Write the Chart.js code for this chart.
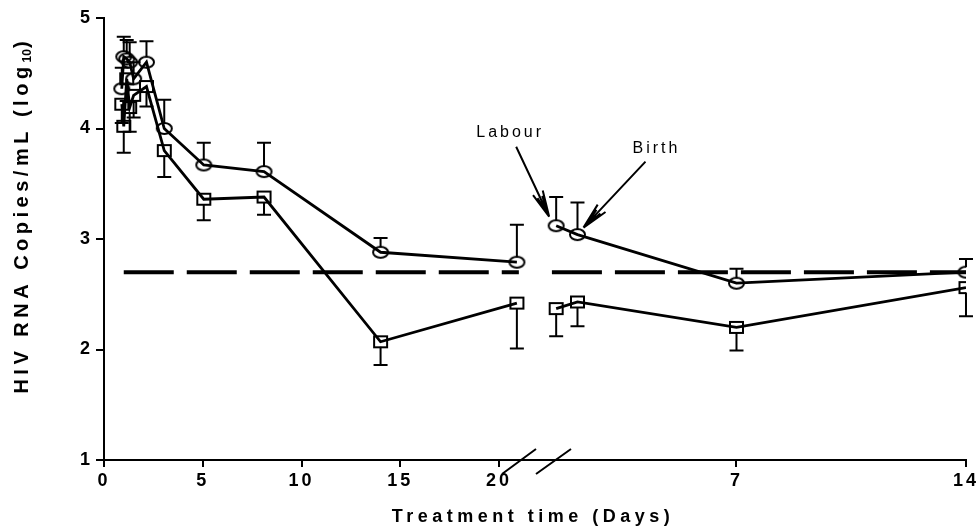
<!DOCTYPE html>
<html>
<head>
<meta charset="utf-8">
<script src="https://cdn.jsdelivr.net/npm/chart.js@4.4.0/dist/chart.umd.min.js"></script>
<style>
  html, body { margin: 0; padding: 0; background: #fff; }
</style>
</head>
<body>
<canvas id="myChart" width="979" height="531"></canvas>
<script>
// treatment phase, days of therapy
var treatDays = [0.9, 1.0, 1.15, 1.3, 1.5, 2.15, 3.05, 5.05, 8.1, 14, 20.9];
var circleTreat = [4.36, 4.65, 4.63, 4.60, 4.45, 4.60, 4.00, 3.67, 3.61, 2.88, 2.79];
var circleTreatErr = [4.55, 4.83, 4.80, 4.78, 4.60, 4.79, 4.26, 3.87, 3.87, 3.01, 3.13];
var squareTreat = [4.22, 4.02, 4.45, 4.19, 4.30, 4.38, 3.80, 3.36, 3.38, 2.07, 2.42];
var squareTreatErr = [4.05, 3.78, 4.25, 3.97, 4.10, 4.20, 3.56, 3.17, 3.22, 1.86, 2.01];

// after the break: labour, birth, then days 7 and 14
var postDays = [1.5, 2.15, 7, 14];
var circlePost = [3.12, 3.04, 2.60, 2.70];
var circlePostErr = [3.38, 3.33, 2.73, 2.82];
var squarePost = [2.37, 2.43, 2.20, 2.56];
var squarePostErr = [2.12, 2.21, 1.99, 2.30];

var detectLimit = 2.7;
var yTicks = [1, 2, 3, 4, 5];
var treatTicks = [0, 5, 10, 15, 20];
var postTicks = [7, 14];

// broken axis: post segment mapped onto the same linear scale
var postOffset = 20.40;
var postScale = 1.6596;
function postPos(d) { return postOffset + postScale * d; }
var xMax = postPos(14);

var FONT = '"Liberation Sans", Arial, sans-serif';

function pts(xs, ys) {
    return xs.map(function (x, i) { return { x: x, y: ys[i] }; });
}

function makeEllipse(w, h) {
    var c = document.createElement('canvas');
    c.width = w + 4; c.height = h + 4;
    var g = c.getContext('2d');
    g.lineWidth = 2; g.strokeStyle = '#000';
    g.beginPath();
    g.ellipse(c.width / 2, c.height / 2, w / 2, h / 2, 0, 0, Math.PI * 2);
    g.stroke();
    return c;
}
function makeBox(w, h) {
    var c = document.createElement('canvas');
    c.width = w + 4; c.height = h + 4;
    var g = c.getContext('2d');
    g.lineWidth = 2; g.strokeStyle = '#000';
    g.strokeRect(2, 2, w, h);
    return c;
}
var ellipseImg = makeEllipse(15, 11);
var boxImg = makeBox(13, 11);

var postX = postDays.map(postPos);

function lineSet(data, img, errs, dir) {
    return {
        data: data,
        borderColor: '#000',
        borderWidth: 2.8,
        pointStyle: img,
        pointRadius: 7,
        tension: 0,
        errs: errs,
        errDir: dir
    };
}

var errorBars = {
    id: 'errorBars',
    afterDatasetsDraw: function (chart) {
        var ctx = chart.ctx, xs = chart.scales.x, ys = chart.scales.y;
        ctx.save();
        ctx.strokeStyle = '#000';
        ctx.lineWidth = 2;
        chart.data.datasets.forEach(function (ds) {
            if (!ds.errs) return;
            ds.data.forEach(function (p, i) {
                var px = xs.getPixelForValue(p.x);
                var y0 = ys.getPixelForValue(p.y);
                var y1 = ys.getPixelForValue(ds.errs[i]);
                ctx.beginPath();
                ctx.moveTo(px, y0 + (ds.errDir < 0 ? -5 : 5));
                ctx.lineTo(px, y1);
                ctx.moveTo(px - 7, y1);
                ctx.lineTo(px + 7, y1);
                ctx.stroke();
            });
        });
        ctx.restore();
    }
};

function arrow(ctx, x0, y0, x1, y1) {
    var a = Math.atan2(y1 - y0, x1 - x0);
    ctx.beginPath();
    ctx.moveTo(x0, y0);
    ctx.lineTo(x1, y1);
    [0.2, 0.12].forEach(function (da, k) {
        var len = k ? 22 : 27;
        ctx.moveTo(x1, y1);
        ctx.lineTo(x1 - len * Math.cos(a - da), y1 - len * Math.sin(a - da));
        ctx.moveTo(x1, y1);
        ctx.lineTo(x1 - len * Math.cos(a + da), y1 - len * Math.sin(a + da));
    });
    ctx.stroke();
}

var decorations = {
    id: 'decorations',
    beforeDraw: function (chart) {
        chart.ctx.letterSpacing = '3px';
    },
    afterDraw: function (chart) {
        var ctx = chart.ctx, xs = chart.scales.x, ys = chart.scales.y;
        var area = chart.chartArea;
        ctx.save();
        ctx.fillStyle = '#000';
        ctx.strokeStyle = '#000';

        // axis break slashes
        ctx.lineWidth = 2;
        var bx = xs.getPixelForValue(postPos(0)) + 29;
        var by = area.bottom;
        ctx.beginPath();
        ctx.moveTo(bx - 34, by + 14); ctx.lineTo(bx, by - 11);
        ctx.moveTo(bx, by + 14); ctx.lineTo(bx + 35, by - 11);
        ctx.stroke();

        // labour / birth arrows
        var lx = xs.getPixelForValue(postX[0]), ly = ys.getPixelForValue(circlePost[0]);
        var bx2 = xs.getPixelForValue(postX[1]), by2 = ys.getPixelForValue(circlePost[1]);
        ctx.lineWidth = 2;
        arrow(ctx, lx - 40, ly - 79, lx - 7, ly - 9);
        arrow(ctx, bx2 + 68, by2 - 73, bx2 + 6, by2 - 7);
        ctx.font = '16px ' + FONT;
        ctx.letterSpacing = '3px';
        ctx.textAlign = 'center';
        ctx.textBaseline = 'middle';
        ctx.fillText('Labour', lx - 46, ly - 93);
        ctx.fillText('Birth', bx2 + 79, by2 - 86);

        // axis titles
        ctx.font = 'bold 18px ' + FONT;
        ctx.letterSpacing = '4.5px';
        ctx.fillText('Treatment time (Days)', (area.left + area.right) / 2 - 2, 517);

        ctx.translate(22, 218);
        ctx.rotate(-Math.PI / 2);
        var big = 'bold 20px ' + FONT, small = 'bold 12px ' + FONT;
        var main = 'HIV RNA Copies/mL (log';
        var sub = '10', tail = ')';
        ctx.textAlign = 'left';
        ctx.font = big; ctx.letterSpacing = '4.5px';
        var w1 = ctx.measureText(main).width;
        ctx.font = small; ctx.letterSpacing = '0px';
        var w2 = ctx.measureText(sub).width;
        ctx.font = big;
        var w3 = ctx.measureText(tail).width;
        var sx = -(w1 + w2 + w3) / 2;
        ctx.letterSpacing = '4.5px';
        ctx.fillText(main, sx, 0);
        ctx.font = small; ctx.letterSpacing = '0px';
        ctx.fillText(sub, sx + w1, 6);
        ctx.font = big;
        ctx.fillText(tail, sx + w1 + w2 + 1, 0);
        ctx.restore();
        ctx.letterSpacing = '0px';
    }
};

var ctx = document.getElementById('myChart').getContext('2d');
var myChart = new Chart(ctx, {
    type: 'line',
    data: {
        datasets: [
            lineSet(pts(treatDays, circleTreat), ellipseImg, circleTreatErr, -1),
            lineSet(pts(treatDays, squareTreat), boxImg, squareTreatErr, 1),
            lineSet(pts(postX, circlePost), ellipseImg, circlePostErr, -1),
            lineSet(pts(postX, squarePost), boxImg, squarePostErr, 1),
            {
                data: pts([1, 21], [detectLimit, detectLimit]),
                borderColor: '#000', borderWidth: 4, borderDash: [50, 13],
                pointRadius: 0, borderCapStyle: 'butt'
            },
            {
                data: pts([postPos(1.37), postPos(14)], [detectLimit, detectLimit]),
                borderColor: '#000', borderWidth: 4, borderDash: [50, 13],
                pointRadius: 0, borderCapStyle: 'butt'
            }
        ]
    },
    options: {
        responsive: false,
        devicePixelRatio: 1,
        animation: false,
        layout: { padding: { top: 18, right: 11, left: 0, bottom: 0 } },
        plugins: { legend: { display: false }, tooltip: { enabled: false } },
        scales: {
            x: {
                type: 'linear',
                min: 0,
                max: xMax,
                afterFit: function (s) { s.height = 71; },
                afterBuildTicks: function (s) {
                    s.ticks = treatTicks.concat(postTicks.map(postPos)).map(function (v) { return { value: v }; });
                },
                ticks: {
                    color: '#000',
                    padding: 3,
                    maxRotation: 0,
                    autoSkip: false,
                    font: { family: FONT, size: 18, weight: 'bold' },
                    callback: function (v) {
                        if (v <= 20.5) return String(v);
                        return String(Math.round((v - postOffset) / postScale));
                    }
                },
                grid: { drawOnChartArea: false, drawTicks: true, tickLength: 7, color: '#000', lineWidth: 2 },
                border: { display: true, color: '#000', width: 2 }
            },
            y: {
                type: 'linear',
                min: 1,
                max: 5,
                afterFit: function (s) { s.width = 104; },
                afterBuildTicks: function (s) {
                    s.ticks = yTicks.map(function (v) { return { value: v }; });
                },
                ticks: {
                    color: '#000',
                    padding: 3,
                    font: { family: FONT, size: 18, weight: 'bold' }
                },
                grid: { drawOnChartArea: false, drawTicks: true, tickLength: 8, color: '#000', lineWidth: 2 },
                border: { display: true, color: '#000', width: 2 }
            }
        }
    },
    plugins: [errorBars, decorations]
});
</script>
</body>
</html>
